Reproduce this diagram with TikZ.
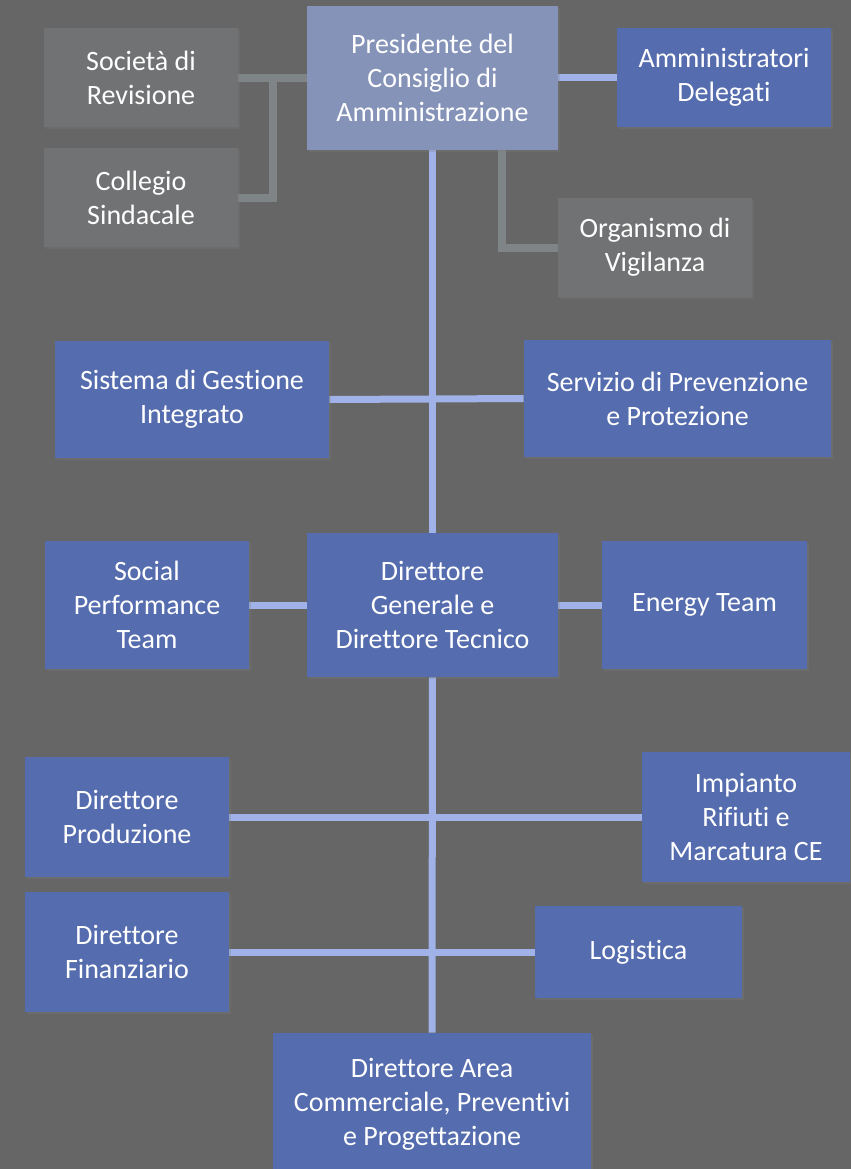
\documentclass[tikz,border=0pt]{standalone}
\usepackage{fontspec}
\setmainfont[Ligatures=NoCommon]{Carlito}
\usetikzlibrary{shadows}
\pgfdeclarelayer{bg}
\pgfsetlayers{bg,main}
\definecolor{bgc}{RGB}{102,102,102}
\definecolor{grayBox}{RGB}{113,114,115}
\definecolor{presBox}{RGB}{133,147,185}
\definecolor{blueBox}{RGB}{85,109,174}
\definecolor{blueLine}{RGB}{160,178,232}
\definecolor{grayLine}{RGB}{127,132,135}
\tikzset{
  box/.style={draw=none, text=white, align=center, inner sep=0pt,
    font=\fontsize{14}{17}\selectfont,
    drop shadow={opacity=0.25, shadow xshift=1pt, shadow yshift=-1pt}},
  gbox/.style={box, fill=grayBox},
  pbox/.style={box, fill=presBox},
  bbox/.style={box, fill=blueBox},
  sz/.style 2 args={minimum width=#1*0.5pt, minimum height=#2*0.5pt},
  bline/.style={draw=blueLine, line width=3.5pt},
  gline/.style={draw=grayLine, line width=4pt},
}
\begin{document}
\begin{tikzpicture}[x=0.5pt, y=-0.5pt]
\begin{pgfonlayer}{bg}
\fill[bgc] (0,0) rectangle (851,1169);
\end{pgfonlayer}
\useasboundingbox (0,0) rectangle (851,1169);
% nodes
\node[pbox, sz={251}{144}] (pres) at (432.5,78) {Presidente del\\Consiglio di\\Amministrazione};
\node[gbox, sz={194}{99}] (soc) at (141,77.5) {Società di\\Revisione};
\node[gbox, sz={194}{99}] (col) at (141,197.5) {Collegio\\Sindacale};
\node[bbox, sz={214}{99}] (amm) at (724,77.5) {Amministratori\\Delegati};
\node[gbox, sz={194}{99}] (org) at (655,247.5) {Organismo di\\Vigilanza};
\node[bbox, sz={274}{117}] (sis) at (192,399.5) {Sistema di Gestione\\Integrato};
\node[bbox, sz={307}{117}] (ser) at (677.5,398.5) {Servizio di Prevenzione\\e Protezione};
\node[bbox, sz={204}{128}] (soc2) at (147,605) {Social\\Performance\\Team};
\node[bbox, sz={251}{144}] (dg) at (432.5,605) {Direttore\\Generale e\\Direttore Tecnico};
\node[bbox, sz={205}{128}] (ene) at (704.5,605) {Energy Team};
\node[bbox, sz={204}{120}] (prod) at (127,817) {Direttore\\Produzione};
\node[bbox, sz={208}{130}] (imp) at (746,817) {Impianto\\Rifiuti e\\Marcatura CE};
\node[bbox, sz={204}{120}] (fin) at (127,952) {Direttore\\Finanziario};
\node[bbox, sz={207}{92}] (log) at (638.5,952) {Logistica};
\node[bbox, sz={318}{142}] (dac) at (432,1104) {Direttore Area\\Commerciale, Preventivi\\e Progettazione};
% junction coordinates
\coordinate (j1) at (273,77.5);
\coordinate (j2) at (502,150);
% connectors (behind boxes)
\begin{pgfonlayer}{bg}
\draw[gline] (soc.east) -- (soc.east -| pres.west);
\draw[gline] (col.east) -| (j1);
\draw[gline] (org.west) -| (j2);
\draw[bline] (pres.east |- amm.west) -- (amm.west);
\draw[bline] (pres.south) -- (dg.north);
\draw[bline] (sis.east) -- (ser.west);
\draw[bline] (soc2.east) -- (dg.west);
\draw[bline] (dg.east) -- (ene.west);
\draw[bline] (dg.south) -- (dac.north);
\draw[bline] (prod.east) -- (imp.west);
\draw[bline] (fin.east) -- (log.west);
\end{pgfonlayer}
\end{tikzpicture}
\end{document}
